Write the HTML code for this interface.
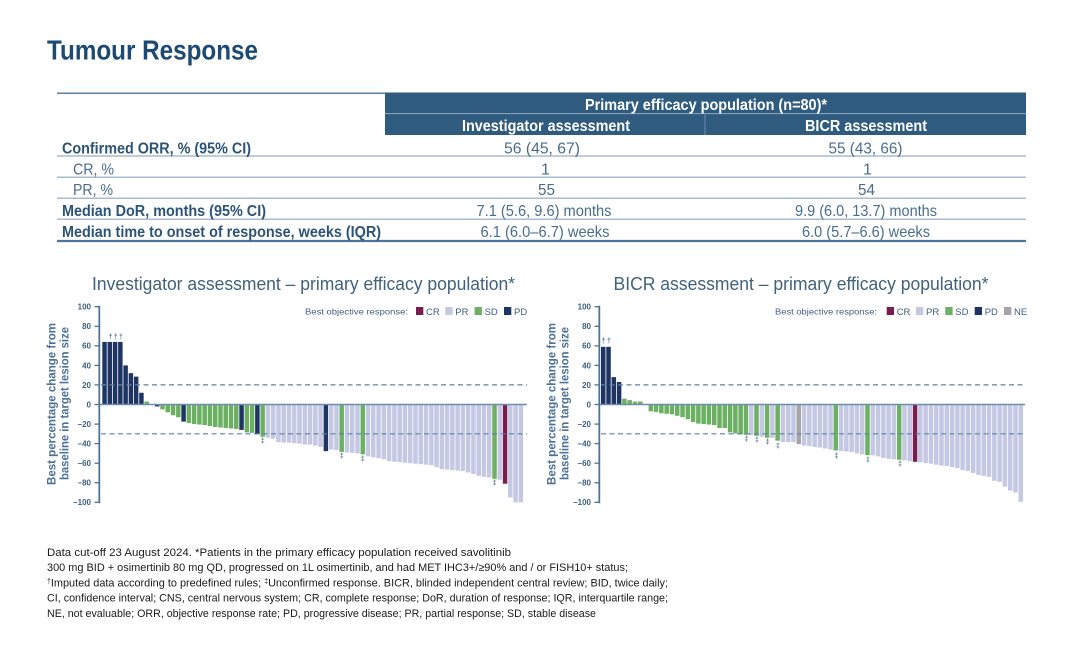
<!DOCTYPE html>
<html><head><meta charset="utf-8"><style>
html,body{margin:0;padding:0;background:#fff;}
svg{display:block;}
</style></head><body>
<svg width="1080" height="657" viewBox="0 0 1080 657" xmlns="http://www.w3.org/2000/svg" font-family="'Liberation Sans', Arial, sans-serif">
<rect width="1080" height="657" fill="#fff"/>
<!-- Title -->
<text x="47" y="59.5" font-size="28" font-weight="bold" fill="#1d4a73" textLength="211" lengthAdjust="spacingAndGlyphs">Tumour Response</text>

<!-- Table -->
<line x1="57" y1="93.3" x2="385" y2="93.3" stroke="#5b80a3" stroke-width="1.5"/>
<rect x="385" y="92.5" width="641" height="42.5" fill="#2f5b7e"/>
<line x1="385" y1="113.6" x2="1026" y2="113.6" stroke="#8fa9c2" stroke-width="1"/>
<line x1="705" y1="114" x2="705" y2="135" stroke="#6d8fae" stroke-width="1"/>
<text x="706" y="110" font-size="16" font-weight="bold" fill="#fff" text-anchor="middle" textLength="242" lengthAdjust="spacingAndGlyphs">Primary efficacy population (n=80)*</text>
<text x="546" y="131" font-size="16" font-weight="bold" fill="#fff" text-anchor="middle" textLength="168" lengthAdjust="spacingAndGlyphs">Investigator assessment</text>
<text x="866" y="131" font-size="16" font-weight="bold" fill="#fff" text-anchor="middle" textLength="122" lengthAdjust="spacingAndGlyphs">BICR assessment</text>

<g stroke="#a9bcd0" stroke-width="1.5">
<line x1="57" y1="156" x2="1026" y2="156"/>
<line x1="57" y1="177.3" x2="1026" y2="177.3"/>
<line x1="57" y1="198.3" x2="1026" y2="198.3"/>
<line x1="57" y1="219.3" x2="1026" y2="219.3"/>
</g>
<line x1="57" y1="241" x2="1026" y2="241" stroke="#4e7597" stroke-width="2.2"/>

<g font-size="16" font-weight="bold" fill="#2d5478">
<text x="62" y="153.5" textLength="189" lengthAdjust="spacingAndGlyphs">Confirmed ORR, % (95% CI)</text>
<text x="62" y="216" textLength="204" lengthAdjust="spacingAndGlyphs">Median DoR, months (95% CI)</text>
<text x="62" y="237" textLength="319" lengthAdjust="spacingAndGlyphs">Median time to onset of response, weeks (IQR)</text>
</g>
<g font-size="16" fill="#4a6d8e">
<text x="73" y="174.3" textLength="41" lengthAdjust="spacingAndGlyphs">CR, %</text>
<text x="73" y="195.2" textLength="40" lengthAdjust="spacingAndGlyphs">PR, %</text>
</g>
<g font-size="16" fill="#4a6d8e" text-anchor="middle">
<text x="542" y="153.5" textLength="76" lengthAdjust="spacingAndGlyphs">56 (45, 67)</text>
<text x="545.5" y="174.3">1</text>
<text x="546.5" y="195.2" textLength="17" lengthAdjust="spacingAndGlyphs">55</text>
<text x="544" y="216" textLength="135" lengthAdjust="spacingAndGlyphs">7.1 (5.6, 9.6) months</text>
<text x="545" y="237" textLength="129" lengthAdjust="spacingAndGlyphs">6.1 (6.0–6.7) weeks</text>
<text x="865.5" y="153.5" textLength="74" lengthAdjust="spacingAndGlyphs">55 (43, 66)</text>
<text x="867.5" y="174.3">1</text>
<text x="866.5" y="195.2" textLength="17" lengthAdjust="spacingAndGlyphs">54</text>
<text x="866" y="216" textLength="142" lengthAdjust="spacingAndGlyphs">9.9 (6.0, 13.7) months</text>
<text x="866" y="237" textLength="128" lengthAdjust="spacingAndGlyphs">6.0 (5.7–6.6) weeks</text>
</g>

<!-- Chart titles -->
<text x="92" y="290" font-size="18" fill="#40627f" textLength="423" lengthAdjust="spacingAndGlyphs">Investigator assessment – primary efficacy population*</text>
<text x="613.5" y="290" font-size="18" fill="#40627f" textLength="375" lengthAdjust="spacingAndGlyphs">BICR assessment – primary efficacy population*</text>

<!-- Legends -->
<g font-size="8.5" fill="#3f6080">
<text x="305" y="314.5" textLength="103" lengthAdjust="spacingAndGlyphs">Best objective response:</text>
<text x="775" y="314.5" textLength="102" lengthAdjust="spacingAndGlyphs">Best objective response:</text>
</g>
<g font-size="9.5" fill="#3f6080">
<rect x="416" y="307" width="7.3" height="8" fill="#781d4f"/><text x="426" y="315">CR</text>
<rect x="445.3" y="307" width="7.3" height="8" fill="#c4c8e3"/><text x="455.3" y="315">PR</text>
<rect x="474.6" y="307" width="7.3" height="8" fill="#6cb063"/><text x="484.6" y="315">SD</text>
<rect x="504" y="307" width="7.3" height="8" fill="#1e3563"/><text x="514" y="315">PD</text>

<rect x="886.7" y="307" width="7.3" height="8" fill="#781d4f"/><text x="896.7" y="315">CR</text>
<rect x="916" y="307" width="7.3" height="8" fill="#c4c8e3"/><text x="926" y="315">PR</text>
<rect x="945.3" y="307" width="7.3" height="8" fill="#6cb063"/><text x="955.3" y="315">SD</text>
<rect x="974.7" y="307" width="7.3" height="8" fill="#1e3563"/><text x="984.7" y="315">PD</text>
<rect x="1004" y="307" width="7.3" height="8" fill="#a5a5a5"/><text x="1014" y="315">NE</text>
</g>

<!-- LEFT CHART BARS -->
<g transform="translate(102.3,404.5) scale(5.27,-0.978)">
<g fill="#1e3563">
<rect x="0" y="0" width=".85" height="64"/>
<rect x="1" y="0" width=".85" height="64"/>
<rect x="2" y="0" width=".85" height="64"/>
<rect x="3" y="0" width=".85" height="64"/>
<rect x="4" y="0" width=".85" height="40"/>
<rect x="5" y="0" width=".85" height="32"/>
<rect x="6" y="0" width=".85" height="28.5"/>
<rect x="7" y="0" width=".85" height="12"/>
<rect x="10" y="-2" width=".85" height="2"/>
<rect x="15" y="-17.5" width=".85" height="17.5"/>
<rect x="26" y="-26" width=".85" height="26"/>
<rect x="29" y="-30.5" width=".85" height="30.5"/>
<rect x="42" y="-47.7" width=".85" height="47.7"/>
</g>
<g fill="#6cb063">
<rect x="8" y="0" width=".85" height="3"/>
<rect x="9" y="-0.5" width=".85" height="0.5"/>
<rect x="11" y="-5" width=".85" height="5"/>
<rect x="12" y="-8" width=".85" height="8"/>
<rect x="13" y="-11" width=".85" height="11"/>
<rect x="14" y="-13" width=".85" height="13"/>
<rect x="16" y="-19" width=".85" height="19"/>
<rect x="17" y="-20" width=".85" height="20"/>
<rect x="18" y="-20.5" width=".85" height="20.5"/>
<rect x="19" y="-21" width=".85" height="21"/>
<rect x="20" y="-22" width=".85" height="22"/>
<rect x="21" y="-23" width=".85" height="23"/>
<rect x="22" y="-23.5" width=".85" height="23.5"/>
<rect x="23" y="-24" width=".85" height="24"/>
<rect x="24" y="-24.5" width=".85" height="24.5"/>
<rect x="25" y="-25" width=".85" height="25"/>
<rect x="27" y="-28.5" width=".85" height="28.5"/>
<rect x="28" y="-29" width=".85" height="29"/>
<rect x="30" y="-33" width=".85" height="33"/>
<rect x="45" y="-48.5" width=".85" height="48.5"/>
<rect x="49" y="-51" width=".85" height="51"/>
<rect x="74" y="-76" width=".85" height="76"/>
</g>
<g fill="#781d4f">
<rect x="76" y="-81" width=".85" height="81"/>
</g>
<g fill="#c4c8e3">
<rect x="31" y="-34" width=".85" height="34"/>
<rect x="32" y="-35" width=".85" height="35"/>
<rect x="33" y="-38.5" width=".85" height="38.5"/>
<rect x="34" y="-39" width=".85" height="39"/>
<rect x="35" y="-39" width=".85" height="39"/>
<rect x="36" y="-39.5" width=".85" height="39.5"/>
<rect x="37" y="-40" width=".85" height="40"/>
<rect x="38" y="-41" width=".85" height="41"/>
<rect x="39" y="-41" width=".85" height="41"/>
<rect x="40" y="-42" width=".85" height="42"/>
<rect x="41" y="-43.5" width=".85" height="43.5"/>
<rect x="43" y="-46" width=".85" height="46"/>
<rect x="44" y="-46.5" width=".85" height="46.5"/>
<rect x="46" y="-49" width=".85" height="49"/>
<rect x="47" y="-49.5" width=".85" height="49.5"/>
<rect x="48" y="-50" width=".85" height="50"/>
<rect x="50" y="-53" width=".85" height="53"/>
<rect x="51" y="-54" width=".85" height="54"/>
<rect x="52" y="-55" width=".85" height="55"/>
<rect x="53" y="-56" width=".85" height="56"/>
<rect x="54" y="-58" width=".85" height="58"/>
<rect x="55" y="-58.5" width=".85" height="58.5"/>
<rect x="56" y="-59" width=".85" height="59"/>
<rect x="57" y="-59.5" width=".85" height="59.5"/>
<rect x="58" y="-60" width=".85" height="60"/>
<rect x="59" y="-60.5" width=".85" height="60.5"/>
<rect x="60" y="-61" width=".85" height="61"/>
<rect x="61" y="-61.5" width=".85" height="61.5"/>
<rect x="62" y="-62" width=".85" height="62"/>
<rect x="63" y="-64" width=".85" height="64"/>
<rect x="64" y="-66" width=".85" height="66"/>
<rect x="65" y="-66.5" width=".85" height="66.5"/>
<rect x="66" y="-67" width=".85" height="67"/>
<rect x="67" y="-67.5" width=".85" height="67.5"/>
<rect x="68" y="-68" width=".85" height="68"/>
<rect x="69" y="-69.5" width=".85" height="69.5"/>
<rect x="70" y="-71" width=".85" height="71"/>
<rect x="71" y="-73" width=".85" height="73"/>
<rect x="72" y="-74" width=".85" height="74"/>
<rect x="73" y="-74.5" width=".85" height="74.5"/>
<rect x="75" y="-77" width=".85" height="77"/>
<rect x="77" y="-95" width=".85" height="95"/>
<rect x="78" y="-100" width=".85" height="100"/>
<rect x="79" y="-100" width=".85" height="100"/>
</g>
</g>

<!-- RIGHT CHART BARS -->
<g transform="translate(601,404.5) scale(5.285,-0.978)">
<g fill="#1e3563">
<rect x="0" y="0" width=".85" height="59"/>
<rect x="1" y="0" width=".85" height="59"/>
<rect x="2" y="0" width=".85" height="28"/>
<rect x="3" y="0" width=".85" height="23"/>
</g>
<g fill="#6cb063">
<rect x="4" y="0" width=".85" height="6"/>
<rect x="5" y="0" width=".85" height="4.5"/>
<rect x="6" y="0" width=".85" height="3"/>
<rect x="7" y="0" width=".85" height="3"/>
<rect x="8" y="-0.5" width=".85" height="0.5"/>
<rect x="9" y="-7" width=".85" height="7"/>
<rect x="10" y="-7.5" width=".85" height="7.5"/>
<rect x="11" y="-9" width=".85" height="9"/>
<rect x="12" y="-9.5" width=".85" height="9.5"/>
<rect x="13" y="-10" width=".85" height="10"/>
<rect x="14" y="-11.5" width=".85" height="11.5"/>
<rect x="15" y="-13" width=".85" height="13"/>
<rect x="16" y="-15" width=".85" height="15"/>
<rect x="17" y="-18" width=".85" height="18"/>
<rect x="18" y="-19.5" width=".85" height="19.5"/>
<rect x="19" y="-20" width=".85" height="20"/>
<rect x="20" y="-20.5" width=".85" height="20.5"/>
<rect x="21" y="-21" width=".85" height="21"/>
<rect x="22" y="-24" width=".85" height="24"/>
<rect x="23" y="-24" width=".85" height="24"/>
<rect x="24" y="-28.5" width=".85" height="28.5"/>
<rect x="25" y="-29.5" width=".85" height="29.5"/>
<rect x="26" y="-30.5" width=".85" height="30.5"/>
<rect x="27" y="-31" width=".85" height="31"/>
<rect x="29" y="-32" width=".85" height="32"/>
<rect x="31" y="-34" width=".85" height="34"/>
<rect x="33" y="-37" width=".85" height="37"/>
<rect x="44" y="-47" width=".85" height="47"/>
<rect x="50" y="-51.8" width=".85" height="51.8"/>
<rect x="56" y="-56.5" width=".85" height="56.5"/>
</g>
<g fill="#a5a5a5">
<rect x="37" y="-40.5" width=".85" height="40.5"/>
</g>
<g fill="#781d4f">
<rect x="59" y="-58.6" width=".85" height="58.6"/>
</g>
<g fill="#c4c8e3">
<rect x="28" y="-31.5" width=".85" height="31.5"/>
<rect x="30" y="-33" width=".85" height="33"/>
<rect x="32" y="-34" width=".85" height="34"/>
<rect x="34" y="-38.5" width=".85" height="38.5"/>
<rect x="35" y="-38.5" width=".85" height="38.5"/>
<rect x="36" y="-38.5" width=".85" height="38.5"/>
<rect x="38" y="-42" width=".85" height="42"/>
<rect x="39" y="-42.5" width=".85" height="42.5"/>
<rect x="40" y="-43.5" width=".85" height="43.5"/>
<rect x="41" y="-44" width=".85" height="44"/>
<rect x="42" y="-45" width=".85" height="45"/>
<rect x="43" y="-46" width=".85" height="46"/>
<rect x="45" y="-47.5" width=".85" height="47.5"/>
<rect x="46" y="-48" width=".85" height="48"/>
<rect x="47" y="-48.5" width=".85" height="48.5"/>
<rect x="48" y="-50" width=".85" height="50"/>
<rect x="49" y="-51" width=".85" height="51"/>
<rect x="51" y="-52" width=".85" height="52"/>
<rect x="52" y="-53" width=".85" height="53"/>
<rect x="53" y="-54.5" width=".85" height="54.5"/>
<rect x="54" y="-55.5" width=".85" height="55.5"/>
<rect x="55" y="-56" width=".85" height="56"/>
<rect x="57" y="-57" width=".85" height="57"/>
<rect x="58" y="-58" width=".85" height="58"/>
<rect x="60" y="-59" width=".85" height="59"/>
<rect x="61" y="-60" width=".85" height="60"/>
<rect x="62" y="-60.5" width=".85" height="60.5"/>
<rect x="63" y="-61.5" width=".85" height="61.5"/>
<rect x="64" y="-62.5" width=".85" height="62.5"/>
<rect x="65" y="-63" width=".85" height="63"/>
<rect x="66" y="-64" width=".85" height="64"/>
<rect x="67" y="-65" width=".85" height="65"/>
<rect x="68" y="-67" width=".85" height="67"/>
<rect x="69" y="-68" width=".85" height="68"/>
<rect x="70" y="-70" width=".85" height="70"/>
<rect x="71" y="-72" width=".85" height="72"/>
<rect x="72" y="-73" width=".85" height="73"/>
<rect x="73" y="-74" width=".85" height="74"/>
<rect x="74" y="-78" width=".85" height="78"/>
<rect x="75" y="-79" width=".85" height="79"/>
<rect x="76" y="-84" width=".85" height="84"/>
<rect x="77" y="-88" width=".85" height="88"/>
<rect x="78" y="-90" width=".85" height="90"/>
<rect x="79" y="-99.5" width=".85" height="99.5"/>
</g>
</g>

<!-- Reference lines & axes -->
<g stroke="#5f81a3" stroke-width="1.2" stroke-dasharray="5,3.5">
<line x1="101" y1="384.9" x2="527" y2="384.9"/>
<line x1="101" y1="433.8" x2="527" y2="433.8"/>
<line x1="601" y1="384.9" x2="1025" y2="384.9"/>
<line x1="601" y1="433.8" x2="1025" y2="433.8"/>
</g>
<line x1="99" y1="404.5" x2="527" y2="404.5" stroke="#6d8db0" stroke-width="1.6"/>
<line x1="599" y1="404.5" x2="1025" y2="404.5" stroke="#6d8db0" stroke-width="1.6"/>

<g stroke="#4f7498" stroke-width="1.8">
<line x1="99.3" y1="305.8" x2="99.3" y2="503.2"/>
<line x1="599.3" y1="305.8" x2="599.3" y2="503.2"/>
</g>
<g stroke="#4f7498" stroke-width="1.3">
<line x1="94.5" y1="306.7" x2="99.3" y2="306.7"/>
<line x1="94.5" y1="326.3" x2="99.3" y2="326.3"/>
<line x1="94.5" y1="345.8" x2="99.3" y2="345.8"/>
<line x1="94.5" y1="365.4" x2="99.3" y2="365.4"/>
<line x1="94.5" y1="384.9" x2="99.3" y2="384.9"/>
<line x1="94.5" y1="404.5" x2="99.3" y2="404.5"/>
<line x1="94.5" y1="424.1" x2="99.3" y2="424.1"/>
<line x1="94.5" y1="443.6" x2="99.3" y2="443.6"/>
<line x1="94.5" y1="463.2" x2="99.3" y2="463.2"/>
<line x1="94.5" y1="482.7" x2="99.3" y2="482.7"/>
<line x1="94.5" y1="502.3" x2="99.3" y2="502.3"/>
<line x1="594.5" y1="306.7" x2="599.3" y2="306.7"/>
<line x1="594.5" y1="326.3" x2="599.3" y2="326.3"/>
<line x1="594.5" y1="345.8" x2="599.3" y2="345.8"/>
<line x1="594.5" y1="365.4" x2="599.3" y2="365.4"/>
<line x1="594.5" y1="384.9" x2="599.3" y2="384.9"/>
<line x1="594.5" y1="404.5" x2="599.3" y2="404.5"/>
<line x1="594.5" y1="424.1" x2="599.3" y2="424.1"/>
<line x1="594.5" y1="443.6" x2="599.3" y2="443.6"/>
<line x1="594.5" y1="463.2" x2="599.3" y2="463.2"/>
<line x1="594.5" y1="482.7" x2="599.3" y2="482.7"/>
<line x1="594.5" y1="502.3" x2="599.3" y2="502.3"/>
</g>
<g font-size="8" font-weight="bold" fill="#3f6080" text-anchor="end">
<text x="91" y="309.6">100</text>
<text x="91" y="329.2">80</text>
<text x="91" y="348.7">60</text>
<text x="91" y="368.3">40</text>
<text x="91" y="387.8">20</text>
<text x="91" y="407.4">0</text>
<text x="91" y="427">−20</text>
<text x="91" y="446.5">−40</text>
<text x="91" y="466.1">−60</text>
<text x="91" y="485.6">−80</text>
<text x="91" y="505.2">−100</text>
<text x="591" y="309.6">100</text>
<text x="591" y="329.2">80</text>
<text x="591" y="348.7">60</text>
<text x="591" y="368.3">40</text>
<text x="591" y="387.8">20</text>
<text x="591" y="407.4">0</text>
<text x="591" y="427">−20</text>
<text x="591" y="446.5">−40</text>
<text x="591" y="466.1">−60</text>
<text x="591" y="485.6">−80</text>
<text x="591" y="505.2">−100</text>
</g>

<!-- Y axis titles -->
<g font-size="11.5" font-weight="bold" fill="#4d7197" text-anchor="middle">
<text transform="translate(55.5,404) rotate(-90)" textLength="162" lengthAdjust="spacingAndGlyphs">Best percentage change from</text>
<text transform="translate(68.5,403.5) rotate(-90)" textLength="153" lengthAdjust="spacingAndGlyphs">baseline in target lesion size</text>
<text transform="translate(555.5,404) rotate(-90)" textLength="162" lengthAdjust="spacingAndGlyphs">Best percentage change from</text>
<text transform="translate(568.5,403.5) rotate(-90)" textLength="153" lengthAdjust="spacingAndGlyphs">baseline in target lesion size</text>
</g>

<!-- Daggers -->
<g font-size="7" fill="#2d4d6e" text-anchor="middle">
<text x="110.5" y="339">†</text>
<text x="115.8" y="339">†</text>
<text x="121" y="339">†</text>
<text x="262.7" y="443">‡</text>
<text x="341.8" y="458">‡</text>
<text x="362.8" y="461">‡</text>
<text x="494.6" y="485">‡</text>
<text x="603.6" y="343">†</text>
<text x="608.9" y="343">†</text>
<text x="746.3" y="441">‡</text>
<text x="756.9" y="442">‡</text>
<text x="767.4" y="444">‡</text>
<text x="778" y="448">‡</text>
<text x="836.5" y="458">‡</text>
<text x="868" y="462">‡</text>
<text x="900" y="466">‡</text>
</g>

<!-- Footnote -->
<g font-size="11" fill="#1a1a1a">
<text x="47" y="556" textLength="464" lengthAdjust="spacingAndGlyphs">Data cut-off 23 August 2024. *Patients in the primary efficacy population received savolitinib</text>
<text x="47" y="571.2" textLength="581" lengthAdjust="spacingAndGlyphs">300 mg BID + osimertinib 80 mg QD, progressed on 1L osimertinib, and had MET IHC3+/≥90% and / or FISH10+ status;</text>
<text x="47" y="586.4" textLength="621" lengthAdjust="spacingAndGlyphs"><tspan font-size="7" dy="-3">†</tspan><tspan dy="3">Imputed data according to predefined rules; </tspan><tspan font-size="7" dy="-3">‡</tspan><tspan dy="3">Unconfirmed response. BICR, blinded independent central review; BID, twice daily;</tspan></text>
<text x="47" y="601.6" textLength="621" lengthAdjust="spacingAndGlyphs">CI, confidence interval; CNS, central nervous system; CR, complete response; DoR, duration of response; IQR, interquartile range;</text>
<text x="47" y="616.8" textLength="549" lengthAdjust="spacingAndGlyphs">NE, not evaluable; ORR, objective response rate; PD, progressive disease; PR, partial response; SD, stable disease</text>
</g>
</svg>
</body></html>
